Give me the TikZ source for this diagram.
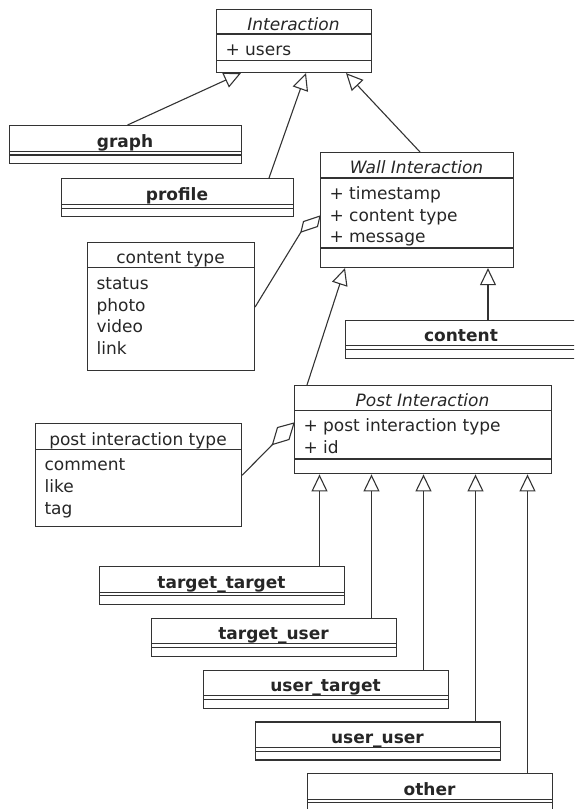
\documentclass[tikz,border=0pt]{standalone}
\usepackage{fontspec}
\setmainfont{DejaVu Sans}
\usetikzlibrary{arrows.meta}

% thin line across a class box, #2 below its top
\newcommand{\sepline}[2]{\draw ([yshift=-#2pt]#1.north west) -- ([yshift=-#2pt]#1.north east);}

\begin{document}
\begin{tikzpicture}[x=1pt, y=-1pt, line width=1.1pt, color=black!80, text=black!85,
    font=\fontsize{17}{20}\selectfont,
    box/.style={draw, anchor=north west, inner sep=0pt},
    ttl/.style={anchor=base, inner sep=0pt},
    attr/.style={anchor=base west, inner sep=0pt},
    gen/.style={-{Triangle[open, length=17pt, width=16pt]}},
    agg/.style={fill=white, line join=miter}]
    \useasboundingbox (0,0) rectangle (574,809);
    \clip (0,0) rectangle (574,809);

    % Interaction
    \node[box, minimum width=155pt, minimum height=63pt] (iact) at (216,9) {};
    \sepline{iact}{25}
    \sepline{iact}{51.7}
    \node[ttl] (iact-t) at (293.5,30.7) {\textit{Interaction}};
    \node[attr] (iact-a1) at (225,55.5) {+ users};

    % graph and profile
    \node[box, minimum width=232pt, minimum height=38pt] (graph) at (9,125) {};
    \sepline{graph}{26.4}
    \sepline{graph}{30}
    \node[ttl] (graph-t) at (125,147.5) {\textbf{graph}};
    \node[box, minimum width=232pt, minimum height=37.5pt] (profile) at (61,178) {};
    \sepline{profile}{26.6}
    \sepline{profile}{30.2}
    \node[ttl] (profile-t) at (177,200) {\textbf{profile}};

    % Wall Interaction
    \node[box, minimum width=193pt, minimum height=115pt] (wall) at (320,152) {};
    \sepline{wall}{26}
    \sepline{wall}{96}
    \node[ttl] (wall-t) at (416.5,173.5) {\textit{Wall Interaction}};
    \node[attr] (wall-a1) at (329,199.3) {+ timestamp};
    \node[attr] (wall-a2) at (329,221) {+ content type};
    \node[attr] (wall-a3) at (329,242.5) {+ message};

    % content type
    \node[box, minimum width=167pt, minimum height=128pt] (ctype) at (87,242) {};
    \sepline{ctype}{25.6}
    \node[ttl] (ctype-t) at (170.5,263.5) {content type};
    \node[attr] (ctype-a1) at (96,289.3) {status};
    \node[attr] (ctype-a2) at (96,311) {photo};
    \node[attr] (ctype-a3) at (96,332.7) {video};
    \node[attr] (ctype-a4) at (96,354.3) {link};

    % content
    \node[box, minimum width=232pt, minimum height=37.5pt] (content) at (345,320) {};
    \sepline{content}{25.8}
    \sepline{content}{29.4}
    \node[ttl] (content-t) at (461,341.5) {\textbf{content}};

    % Post Interaction
    \node[box, minimum width=257pt, minimum height=88.3pt] (post) at (294,385) {};
    \sepline{post}{25.7}
    \sepline{post}{74}
    \node[ttl] (post-t) at (422.5,406.3) {\textit{Post Interaction}};
    \node[attr] (post-a1) at (303,431.8) {+ post interaction type};
    \node[attr] (post-a2) at (303,453.4) {+ id};

    % post interaction type
    \node[box, minimum width=206pt, minimum height=102.4pt] (ptype) at (35,423.3) {};
    \sepline{ptype}{26}
    \node[ttl] (ptype-t) at (138,445) {post interaction type};
    \node[attr] (ptype-a1) at (44,470.8) {comment};
    \node[attr] (ptype-a2) at (44,492.4) {like};
    \node[attr] (ptype-a3) at (44,514) {tag};

    % subclasses of Post Interaction
    \foreach \n/\lab [count=\i from 0] in {tt/target\_target, tu/target\_user,
        ut/user\_target, uu/user\_user, oth/other} {
        \node[box, minimum width=245pt, minimum height=38pt] (\n) at ({99+52*\i},{566+51.8*\i}) {};
        \sepline{\n}{26.1}
        \sepline{\n}{29.7}
        \node[ttl] (\n-t) at ({221.5+52*\i},{588+51.8*\i}) {\textbf{\lab}};
        \draw[gen] ([xshift=220.5pt]\n.north west) -- ([xshift=220.5pt]\n.north west |- post.south);
    }

    % Generalisations
    \draw[gen] ([xshift=2pt]graph.north) -- ([xshift=25pt]iact.south west);
    \draw[gen] ([xshift=208pt]profile.north west) -- ([xshift=90pt]iact.south west);
    \draw[gen] ([xshift=100pt]wall.north west) -- ([xshift=130pt]iact.south west);
    \draw[gen] ([xshift=13pt]post.north west) -- ([xshift=25pt]wall.south west);
    \draw[gen] ([xshift=143pt]content.north west) -- ([xshift=143pt]content.north west |- wall.south);

    % Aggregations
    \coordinate (wtip) at ([yshift=-64pt]wall.north west);
    \draw ([yshift=-65pt]ctype.north east) -- ([shift={(-19,16)}]wtip);
    \draw[agg] (wtip) -- +(-16.5,5.5) -- +(-19,16) -- +(-2.5,10.5) -- cycle;
    \coordinate (ptip) at ([yshift=-38pt]post.north west);
    \draw ([yshift=-52pt]ptype.north east) -- ([shift={(-21.5,21.5)}]ptip);
    \draw[agg] (ptip) -- +(-16.5,4.5) -- +(-21.5,21.5) -- +(-5,16.5) -- cycle;
\end{tikzpicture}
\end{document}
